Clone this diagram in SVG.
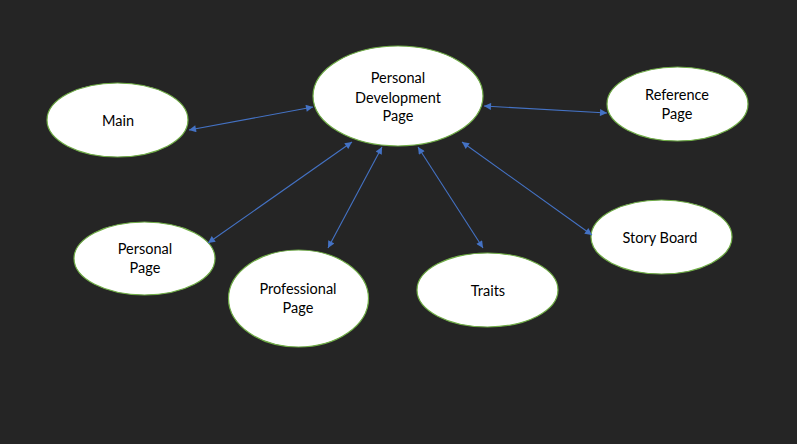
<svg xmlns="http://www.w3.org/2000/svg" width="797" height="444" viewBox="0 0 797 444">
<defs>
<marker id="ah" viewBox="0 0 10 10" refX="10" refY="5" markerWidth="8" markerHeight="7" markerUnits="userSpaceOnUse" orient="auto-start-reverse">
<path d="M0,0 L10,5 L0,10 Z" fill="#4472C4"/>
</marker>
<style>
.n{fill:#ffffff;stroke:#70AD47;stroke-width:1.2}
.t{font-family:Lato,"Open Sans","Liberation Sans",sans-serif;font-size:14.5px;fill:#000;text-anchor:middle}
.c line{stroke:#4472C4;stroke-width:1.1;marker-start:url(#ah);marker-end:url(#ah)}
</style>
</defs>
<rect width="797" height="444" fill="#252525"/>
<g id="pdp"><ellipse class="n" cx="398" cy="96" rx="85" ry="50"/>
<text class="t" x="398" y="83">Personal</text><text class="t" x="398" y="102.5">Development</text><text class="t" x="398" y="121">Page</text></g>
<g id="main"><ellipse class="n" cx="117.5" cy="120" rx="70.5" ry="37"/><text class="t" x="118" y="126">Main</text></g>
<g id="reference"><ellipse class="n" cx="677.5" cy="104" rx="70.5" ry="37"/><text class="t" x="677" y="100">Reference</text><text class="t" x="677" y="119">Page</text></g>
<g id="personal"><ellipse class="n" cx="144.5" cy="258.5" rx="70.5" ry="36.5"/><text class="t" x="145" y="254">Personal</text><text class="t" x="145" y="273">Page</text></g>
<g id="professional"><ellipse class="n" cx="298.5" cy="298.5" rx="70" ry="48.5"/><text class="t" x="298" y="294">Professional</text><text class="t" x="298" y="313">Page</text></g>
<g id="traits"><ellipse class="n" cx="487.5" cy="290" rx="70.5" ry="37"/><text class="t" x="488" y="296">Traits</text></g>
<g id="story"><ellipse class="n" cx="661.5" cy="237" rx="70.5" ry="37"/><text class="t" x="660" y="243">Story Board</text></g>
<g id="connectors" class="c">
<line x1="189" y1="130" x2="313" y2="107"/>
<line x1="484" y1="106" x2="607" y2="113"/>
<line x1="352" y1="142" x2="208" y2="243"/>
<line x1="382" y1="147" x2="328" y2="248"/>
<line x1="418" y1="147" x2="483" y2="248"/>
<line x1="462" y1="142" x2="592" y2="235"/>
</g>
</svg>
